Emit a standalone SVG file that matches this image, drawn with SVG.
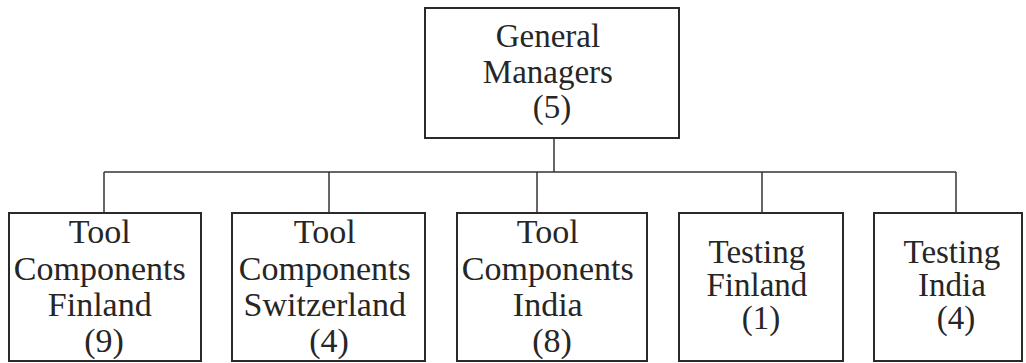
<svg xmlns="http://www.w3.org/2000/svg" width="1026" height="363" viewBox="0 0 1026 363">
  <style>
    .box { fill: #ffffff; stroke: #2a2a2a; stroke-width: 2; }
    .wire { fill: none; stroke: #333333; stroke-width: 1.5; }
    .label { font-family: "Liberation Serif", "Times New Roman", serif; fill: #262626; text-anchor: middle; }
    .top { font-size: 33px; }
    .tool { font-size: 34px; }
    .test { font-size: 33px; }
  </style>
  <rect width="1026" height="363" fill="#ffffff"/>

  <!-- connectors: trunk, bus bar and drops to each department -->
  <g id="connectors" class="wire">
    <line x1="554" y1="139" x2="554" y2="172"/>
    <line x1="104" y1="172" x2="956" y2="172"/>
    <line x1="104" y1="172" x2="104" y2="213"/>
    <line x1="329" y1="172" x2="329" y2="213"/>
    <line x1="537" y1="172" x2="537" y2="213"/>
    <line x1="762" y1="172" x2="762" y2="213"/>
    <line x1="956" y1="172" x2="956" y2="213"/>
  </g>

  <g id="general-managers">
    <rect class="box" x="425" y="8" width="254" height="130"/>
    <text class="label top">
      <tspan x="552" y="47">General</tspan>
      <tspan x="552" y="83">Managers</tspan>
      <tspan x="552" y="118">(5)</tspan>
    </text>
  </g>

  <g id="tool-components-finland">
    <rect class="box" x="9" y="213" width="192" height="148"/>
    <text class="label tool">
      <tspan x="104" y="243">Tool</tspan>
      <tspan x="104" y="280">Components</tspan>
      <tspan x="104" y="316">Finland</tspan>
      <tspan x="104" y="352">(9)</tspan>
    </text>
  </g>

  <g id="tool-components-switzerland">
    <rect class="box" x="232" y="213" width="193" height="148"/>
    <text class="label tool">
      <tspan x="329" y="243">Tool</tspan>
      <tspan x="329" y="280">Components</tspan>
      <tspan x="329" y="316">Switzerland</tspan>
      <tspan x="329" y="352">(4)</tspan>
    </text>
  </g>

  <g id="tool-components-india">
    <rect class="box" x="457" y="213" width="190" height="148"/>
    <text class="label tool">
      <tspan x="552" y="243">Tool</tspan>
      <tspan x="552" y="280">Components</tspan>
      <tspan x="552" y="316">India</tspan>
      <tspan x="552" y="352">(8)</tspan>
    </text>
  </g>

  <g id="testing-finland">
    <rect class="box" x="679" y="213" width="164" height="148"/>
    <text class="label test">
      <tspan x="761" y="263">Testing</tspan>
      <tspan x="761" y="296">Finland</tspan>
      <tspan x="761" y="329">(1)</tspan>
    </text>
  </g>

  <g id="testing-india">
    <rect class="box" x="874" y="213" width="148" height="148"/>
    <text class="label test">
      <tspan x="956" y="263">Testing</tspan>
      <tspan x="956" y="296">India</tspan>
      <tspan x="956" y="329">(4)</tspan>
    </text>
  </g>
</svg>
